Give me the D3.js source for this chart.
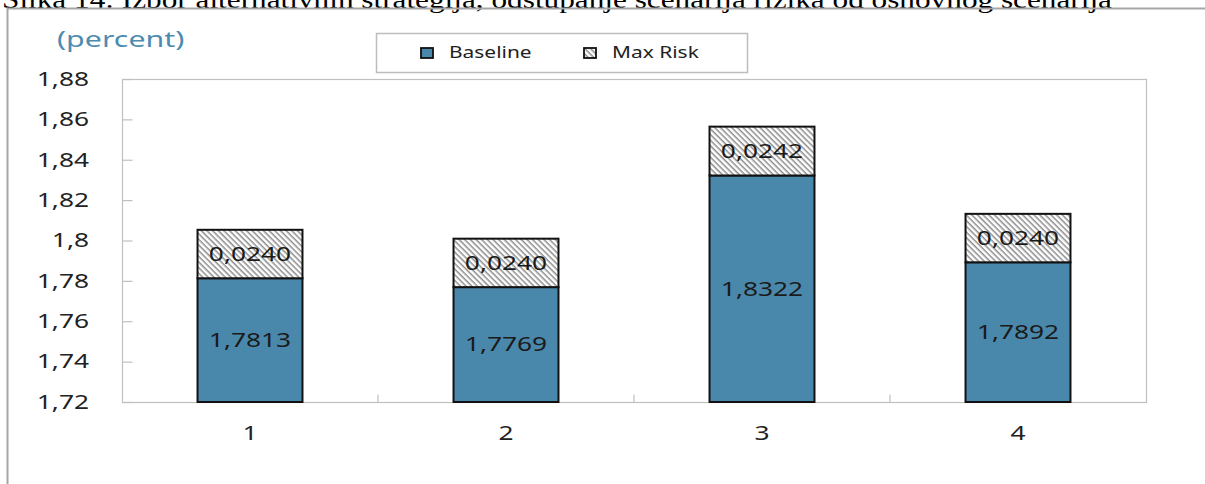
<!DOCTYPE html>
<html>
<head>
<meta charset="utf-8">
<script src="https://cdn.jsdelivr.net/npm/d3@7"></script>
<style>
  html, body { margin: 0; padding: 0; background: #fff; overflow: hidden; }
  svg { display: block; }
</style>
</head>
<body>
<svg id="chart" width="1205" height="484"></svg>
<script>
// Scenario categories and stacked values (percent)
const categories = ["1", "2", "3", "4"];
const baseline = [1.7813, 1.7769, 1.8322, 1.7892];
const maxRisk = [0.0240, 0.0240, 0.0242, 0.0240];
const yTicks = [1.72, 1.74, 1.76, 1.78, 1.80, 1.82, 1.84, 1.86, 1.88];
const seriesNames = ["Baseline", "Max Risk"];

const W = 1205, H = 484;
const margin = { left: 122, right: 59, top: 79, bottom: 82 };
const svg = d3.select("#chart");
const baseColor = "#4a88ab";
const textColor = "#222";
const font = "'Noto Sans', 'Open Sans', sans-serif";
const SX = 1.35; // horizontal stretch of the chart lettering

// Places a text at (x, y) with the wide lettering used throughout the chart
function wideText(g, x, y, size, str, anchor = "start", fill = textColor, sx = SX) {
  return g.append("text")
    .attr("transform", `translate(${x},${y}) scale(${sx},1)`)
    .attr("dy", "0.35em")
    .attr("text-anchor", anchor)
    .attr("font-family", font).attr("font-size", size).attr("fill", fill)
    .text(str);
}

// Hatch pattern for the risk increment
const defs = svg.append("defs");
const pat = defs.append("pattern")
  .attr("id", "hatch")
  .attr("patternUnits", "userSpaceOnUse")
  .attr("width", 4).attr("height", 4)
  .attr("patternTransform", "rotate(45)");
pat.append("rect").attr("width", 4).attr("height", 4).attr("fill", "#fff");
pat.append("line").attr("x1", 0).attr("y1", 0.75).attr("x2", 4).attr("y2", 0.75)
  .attr("stroke", "#8c8c8c").attr("stroke-width", 1.5);

// Figure caption, partly cut at the top edge
svg.append("text")
  .attr("x", 2).attr("y", 7.5)
  .attr("font-family", "'Liberation Serif', 'DejaVu Serif', serif")
  .attr("font-size", 25)
  .attr("fill", "#000")
  .attr("textLength", 1110)
  .attr("lengthAdjust", "spacingAndGlyphs")
  .text("Slika 14: Izbor alternativnih strategija, odstupanje scenarija rizika od osnovnog scenarija");

// Outer chart frame
svg.append("path")
  .attr("d", `M7.5,${H + 2} V8.5 H${W + 2}`)
  .attr("fill", "none").attr("stroke", "#a6a6a6").attr("stroke-width", 2);

const x = d3.scaleBand().domain(categories)
  .range([margin.left, W - margin.right]).paddingInner(0).paddingOuter(0);
const y = d3.scaleLinear().domain([1.72, 1.88]).range([H - margin.bottom, margin.top]);

const plotL = margin.left, plotR = W - margin.right;
const plotT = margin.top, plotB = H - margin.bottom;

// Plot area border
svg.append("rect")
  .attr("x", plotL + 0.5).attr("y", plotT + 0.5)
  .attr("width", plotR - plotL).attr("height", plotB - plotT)
  .attr("fill", "none").attr("stroke", "#c0c0c0").attr("stroke-width", 1.2);

// Y axis: inward ticks and comma-decimal labels
const yAxis = d3.axisRight(y).tickValues(yTicks).tickSize(10).tickFormat("");
const gy = svg.append("g").attr("transform", `translate(${plotL + 0.5},0)`).call(yAxis);
gy.select(".domain").remove();
gy.selectAll(".tick line").attr("stroke", "#c0c0c0").attr("stroke-width", 1.2);

const fmtY = v => d3.format(".2f")(v).replace(/\.?0+$/, "").replace(".", ",");
const gyl = svg.append("g");
yTicks.forEach(v => wideText(gyl, 89, y(v), 19.5, fmtY(v), "end"));

// X axis: category dividers at band boundaries
const gx = svg.append("g").attr("transform", `translate(0,${plotB + 0.5})`);
gx.selectAll("line").data(categories.slice(1)).join("line")
  .attr("x1", d => x(d)).attr("x2", d => x(d))
  .attr("y1", 0).attr("y2", -8)
  .attr("stroke", "#c0c0c0").attr("stroke-width", 1.2);
const gxl = svg.append("g");
categories.forEach(c => wideText(gxl, x(c) + x.bandwidth() / 2, plotB + 31, 19.5, c, "middle"));

// "(percent)" unit label
wideText(svg, 57, 39, 22, "(percent)", "start", "#4d8cb0", 1.38);

// Stacked bars
const barW = x.bandwidth() * 0.41;
const rows = categories.map((c, i) => ({ c, b: baseline[i], r: maxRisk[i] }));
const bars = svg.append("g");
const fmtV = v => d3.format(".4f")(v).replace(".", ",");
rows.forEach(d => {
  const cx = x(d.c) + x.bandwidth() / 2;
  const x0 = cx - barW / 2;
  const yb = y(d.b), yt = y(d.b + d.r);
  bars.append("rect")
    .attr("x", x0).attr("y", yb).attr("width", barW).attr("height", plotB - yb)
    .attr("fill", baseColor).attr("stroke", "#111").attr("stroke-width", 2);
  bars.append("rect")
    .attr("x", x0).attr("y", yt).attr("width", barW).attr("height", yb - yt)
    .attr("fill", "url(#hatch)").attr("stroke", "#111").attr("stroke-width", 2);
  wideText(bars, cx, (yb + plotB) / 2, 19.5, fmtV(d.b), "middle", "#1a1a1a");
  wideText(bars, cx, (yb + yt) / 2, 19.5, fmtV(d.r), "middle", "#1a1a1a");
});

// Legend
const lg = svg.append("g");
lg.append("rect")
  .attr("x", 376.5).attr("y", 33.5).attr("width", 371).attr("height", 39)
  .attr("fill", "#fff").attr("stroke", "#bdbdbd").attr("stroke-width", 1.5);
const legendItems = [
  { name: seriesNames[0], fill: baseColor, sx: 421, tx: 449 },
  { name: seriesNames[1], fill: "url(#hatch)", sx: 584, tx: 612 }
];
legendItems.forEach(it => {
  lg.append("rect")
    .attr("x", it.sx).attr("y", 48).attr("width", 12).attr("height", 10)
    .attr("fill", it.fill).attr("stroke", "#111").attr("stroke-width", 1.8);
  wideText(lg, it.tx, 53, 15.5, it.name);
});
</script>
</body>
</html>
